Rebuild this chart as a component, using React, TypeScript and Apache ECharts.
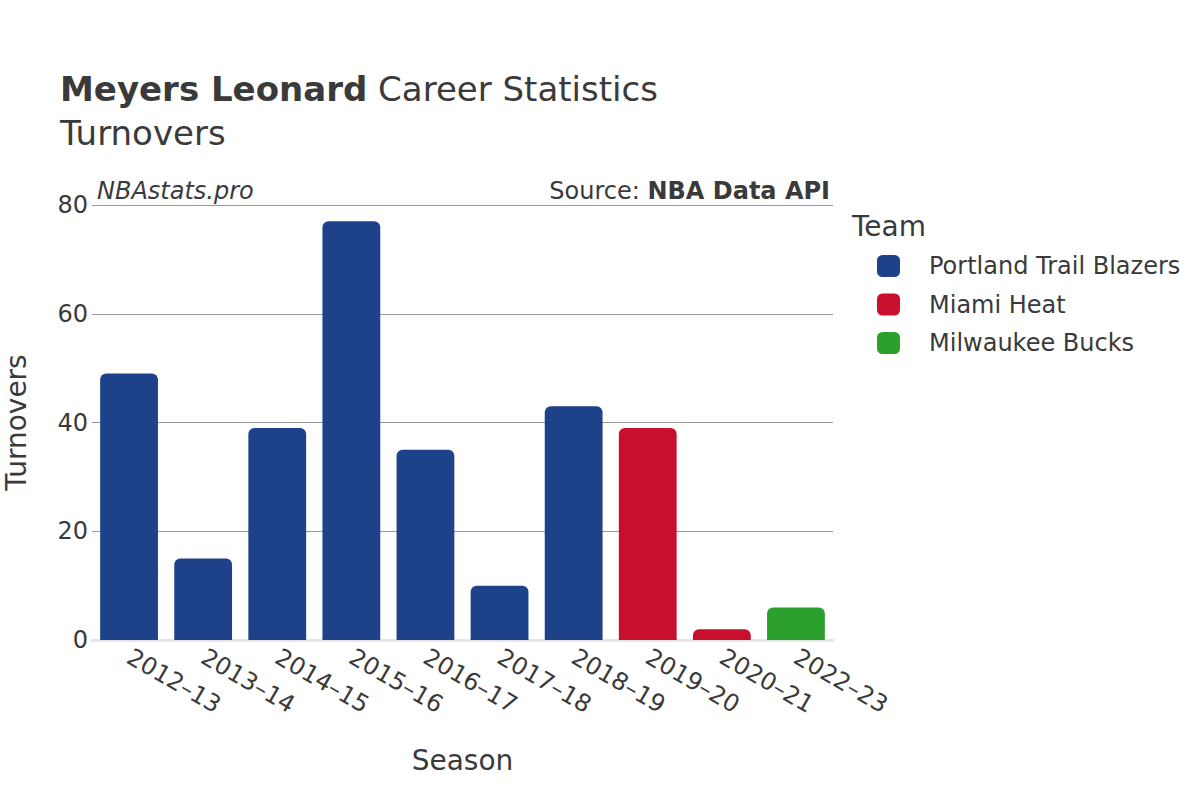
import React, { useEffect, useRef } from "react";
import * as echarts from "echarts";

const seasons = ["2012–13", "2013–14", "2014–15", "2015–16", "2016–17", "2017–18", "2018–19", "2019–20", "2020–21", "2022–23"];
const portland = [49, 15, 39, 77, 35, 10, 43, null, null, null];
const miami = [null, null, null, null, null, null, null, 39, 2, null];
const milwaukee = [null, null, null, null, null, null, null, null, null, 6];
const teamNames = ["Portland Trail Blazers", "Miami Heat", "Milwaukee Bucks"];
const teamColors = ["#1d428a", "#c8102e", "#2ca02c"];
const yTicks = [0, 20, 40, 60, 80];

const FONT = "DejaVu Sans";
const TEXT = "#3a3a3a";

export default function App() {
  const ref = useRef<HTMLDivElement>(null);
  useEffect(() => {
    const chart = echarts.init(ref.current!, null, { renderer: "svg" });
    const seriesData = [portland, miami, milwaukee];
    chart.setOption({
      animation: false,
      textStyle: { fontFamily: FONT, color: TEXT },
      title: {
        text: "{b|Meyers Leonard} Career Statistics\nTurnovers",
        left: 60,
        top: 67,
        padding: 0,
        textStyle: {
          fontFamily: FONT,
          fontSize: 34,
          fontWeight: "normal",
          color: TEXT,
          lineHeight: 44,
          rich: {
            b: { fontFamily: FONT, fontSize: 34, fontWeight: "bold", color: TEXT, lineHeight: 44 },
          },
        },
      },
      legend: {
        orient: "vertical",
        left: 877,
        top: 254,
        padding: 0,
        itemWidth: 23,
        itemHeight: 22,
        itemGap: 14.5,
        icon: "roundRect",
        data: teamNames,
        textStyle: { fontFamily: FONT, fontSize: 24, color: TEXT, padding: [0, 0, 0, 24] },
      },
      graphic: [
        { type: "text", left: 852, top: 212, style: { text: "Team", fontFamily: FONT, fontSize: 28, fill: TEXT } },
        { type: "text", left: 97, top: 179, style: { text: "NBAstats.pro", fontFamily: FONT, fontSize: 24, fontStyle: "italic", fill: TEXT } },
        {
          type: "text",
          right: 370,
          top: 179,
          style: {
            text: "{n|Source: }{b|NBA Data API}",
            fontFamily: FONT,
            fontSize: 24,
            fill: TEXT,
            rich: {
              n: { fontFamily: FONT, fontSize: 24, fill: TEXT, color: TEXT },
              b: { fontFamily: FONT, fontSize: 24, fontWeight: "bold", fill: TEXT, color: TEXT },
            },
          },
        },
      ],
      grid: { left: 92, right: 367, top: 205, bottom: 160, containLabel: false, outerBoundsMode: "none" },
      xAxis: {
        type: "category",
        data: seasons,
        name: "Season",
        nameLocation: "middle",
        nameGap: 106,
        nameTextStyle: { fontFamily: FONT, fontSize: 28, color: TEXT },
        axisLine: { show: true, lineStyle: { color: "#e6e6e6", width: 3 } },
        axisTick: { show: false },
        axisLabel: { rotate: -30, fontFamily: FONT, fontSize: 24, color: TEXT, margin: 15, interval: 0 },
      },
      yAxis: {
        type: "value",
        min: 0,
        max: 80,
        interval: 20,
        name: "Turnovers",
        nameLocation: "middle",
        nameGap: 62,
        nameTextStyle: { fontFamily: FONT, fontSize: 28, color: TEXT },
        axisLine: { show: false },
        axisTick: { show: false },
        axisLabel: {
          fontFamily: FONT,
          fontSize: 24,
          color: TEXT,
          margin: 4,
          formatter: (v: number) => (yTicks.includes(v) ? String(v) : ""),
        },
        splitLine: { lineStyle: { color: "#999999", width: 1 } },
      },
      series: teamNames.map((name, i) => ({
        name,
        type: "bar",
        stack: "total",
        data: seriesData[i],
        barCategoryGap: "22%",
        itemStyle: { color: teamColors[i], borderRadius: [6, 6, 0, 0] },
      })),
    });
    return () => chart.dispose();
  }, []);
  return <div ref={ref} style={{ position: "absolute", left: 0, top: 0, width: 1200, height: 800 }} />;
}
